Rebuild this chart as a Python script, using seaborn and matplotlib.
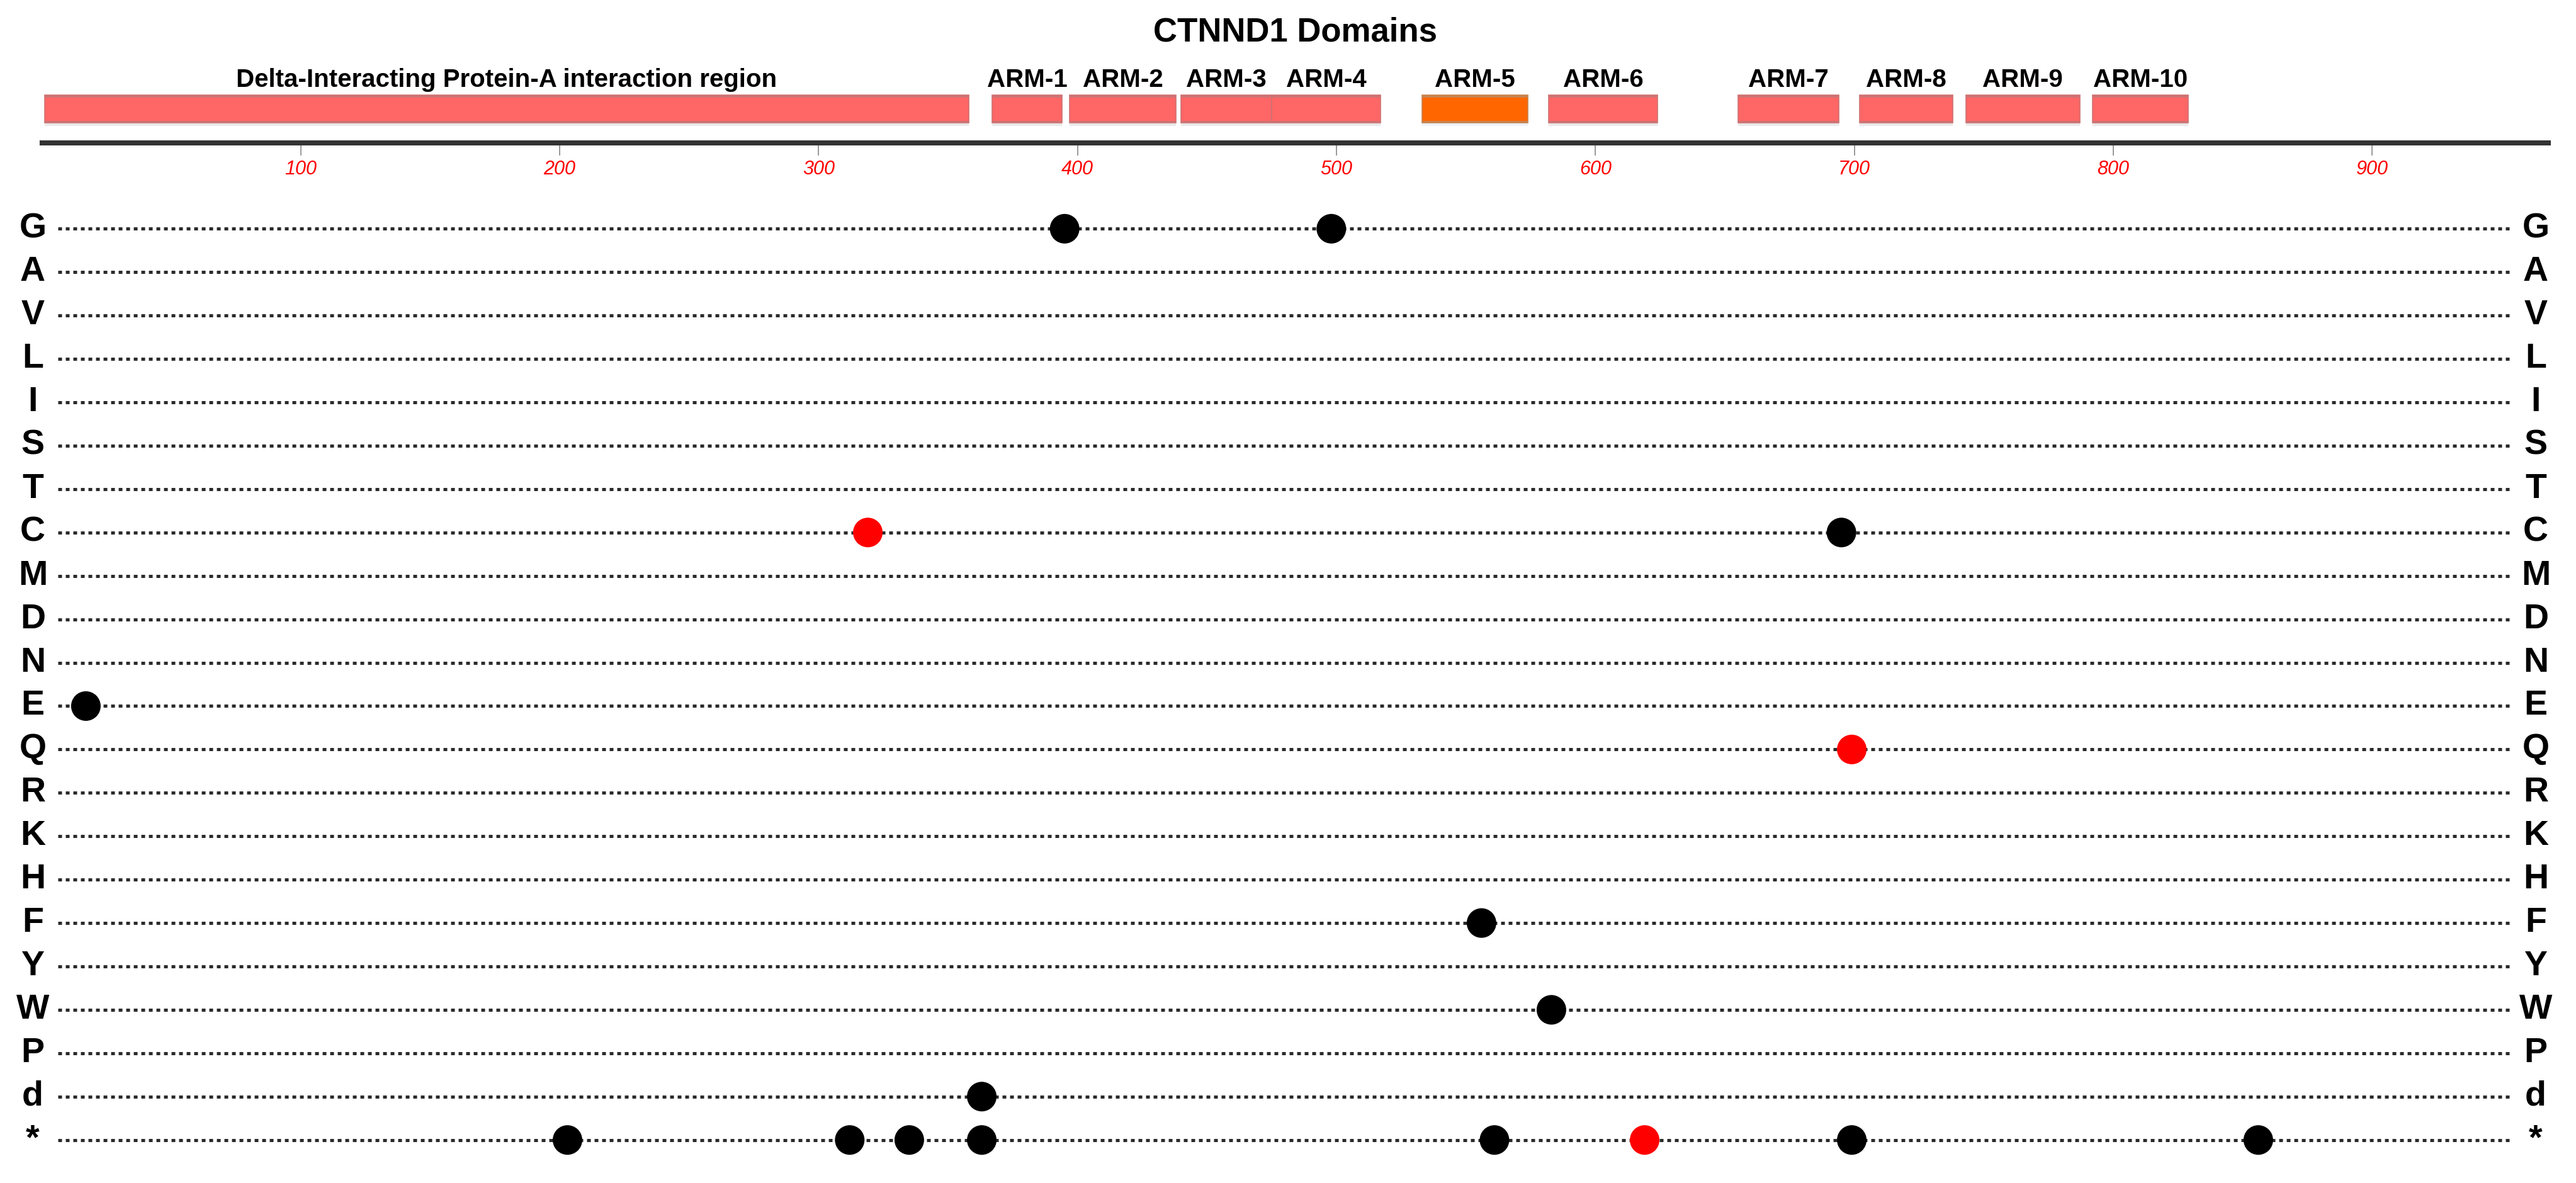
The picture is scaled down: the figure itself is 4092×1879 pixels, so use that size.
import numpy as np
import pandas as pd
import matplotlib
matplotlib.use('Agg')
import matplotlib.pyplot as plt
import seaborn as sns

# --- data -------------------------------------------------------------
protein_length = 968
axis_ticks = [100, 200, 300, 400, 500, 600, 700, 800, 900]

domain_names = ['Delta-Interacting Protein-A interaction region',
                'ARM-1', 'ARM-2', 'ARM-3', 'ARM-4', 'ARM-5',
                'ARM-6', 'ARM-7', 'ARM-8', 'ARM-9', 'ARM-10']
domain_starts = [1, 367, 397, 440, 475, 533, 582, 655, 702, 743, 792]
domain_ends = [358, 394, 438, 475, 517, 574, 624, 694, 738, 787, 829]
highlight_domain = 'ARM-5'

residues = ['G', 'A', 'V', 'L', 'I', 'S', 'T', 'C', 'M', 'D', 'N',
            'E', 'Q', 'R', 'K', 'H', 'F', 'Y', 'W', 'P', 'd', '*']

mut_residue = ['G', 'G', 'C', 'C', 'E', 'Q', 'F', 'W', 'd',
               '*', '*', '*', '*', '*', '*', '*', '*']
mut_position = [395, 498, 319, 695, 17, 699, 556, 583, 363,
                203, 312, 335, 363, 561, 619, 699, 856]
mut_group = ['normal', 'normal', 'highlighted', 'normal', 'normal', 'highlighted',
             'normal', 'normal', 'normal',
             'normal', 'normal', 'normal', 'normal', 'normal', 'highlighted',
             'normal', 'normal']

# --- style ------------------------------------------------------------
sns.set_theme(style='white')
plt.rcParams['font.family'] = ['Liberation Sans', 'DejaVu Sans']

W, H = 4092, 1879
fig = plt.figure(figsize=(W / 100, H / 100), dpi=100)
x0, x1 = 66.5, 4048  # pixel span of the sequence axis

# --- domain track -----------------------------------------------------
ax_top = fig.add_axes([x0 / W, 1 - 227 / H, (x1 - x0) / W, 227 / H])
ax_top.set_xlim(0, protein_length)
ax_top.set_ylim(227, 0)

for name, start, end in zip(domain_names, domain_starts, domain_ends):
    if name == highlight_domain:
        fill, edge, shadow = '#FF6600', '#C8834F', '#EEF3F8'
    else:
        fill, edge, shadow = '#FF6666', '#CE7272', '#E9E9E9'
    width = end - start
    ax_top.barh(y=197, width=width, left=start, height=5, color=shadow, linewidth=0)
    ax_top.barh(y=173, width=width, left=start, height=44, color=fill,
                edgecolor=edge, linewidth=1.2)
    ax_top.barh(y=153, width=width, left=start, height=4, color=edge, linewidth=0)
    ax_top.barh(y=193, width=width, left=start, height=3, color=edge, linewidth=0)
    ax_top.text((start + end) / 2, 127, name, ha='center', va='center',
                fontsize=29, fontweight='bold', color='black')

ax_top.text(protein_length / 2, 51, 'CTNND1 Domains', ha='center', va='center',
            fontsize=38, fontweight='bold', color='black')

for side in ['top', 'left', 'right']:
    ax_top.spines[side].set_visible(False)
ax_top.spines['bottom'].set_linewidth(5.8)
ax_top.spines['bottom'].set_color('#333333')
ax_top.set_yticks([])
ax_top.set_xticks(axis_ticks)
ax_top.set_xticklabels([str(t) for t in axis_ticks])
ax_top.tick_params(axis='x', direction='out', bottom=True, length=14.4, width=1.4,
                   color='#999999', labelcolor='#FF0000', labelsize=22, pad=5)
for lbl in ax_top.get_xticklabels():
    lbl.set_style('italic')

# --- mutation rows ----------------------------------------------------
row_top, row_bot = 363.3, 1810.7
step = (row_bot - row_top) / (len(residues) - 1)
ax = fig.add_axes([x0 / W, 1 - (row_bot + step / 2) / H, (x1 - x0) / W,
                   (row_bot - row_top + step) / H])
ax.set_xlim(0, protein_length)
ax.set_ylim(len(residues) - 0.5, -0.5)
ax.axis('off')

line_x = [(92 - x0) / (x1 - x0) * protein_length, (3990 - x0) / (x1 - x0) * protein_length]
label_left = (52 - x0) / (x1 - x0) * protein_length
label_right = (4028 - x0) / (x1 - x0) * protein_length
for i, r in enumerate(residues):
    ax.plot(line_x, [i, i], color='#2a2a2a', linewidth=3.6,
            linestyle=(0, (1.2, 1.2)), zorder=1)
    for lx in (label_left, label_right):
        ax.text(lx, i, r, ha='center', va='center', fontsize=40,
                fontweight='bold', color='black', clip_on=False)

df = pd.DataFrame({'position': mut_position,
                   'residue': mut_residue,
                   'group': mut_group})
df['row'] = df['residue'].map({r: i for i, r in enumerate(residues)})

sns.scatterplot(data=df, x='position', y='row', hue='group',
                palette={'highlighted': '#FF0000', 'normal': '#000000'},
                s=1145, linewidth=0, legend=False, ax=ax, zorder=3)
ax.set_xlim(0, protein_length)
ax.set_ylim(len(residues) - 0.5, -0.5)
ax.axis('off')

fig.savefig('out.png', dpi=100)
